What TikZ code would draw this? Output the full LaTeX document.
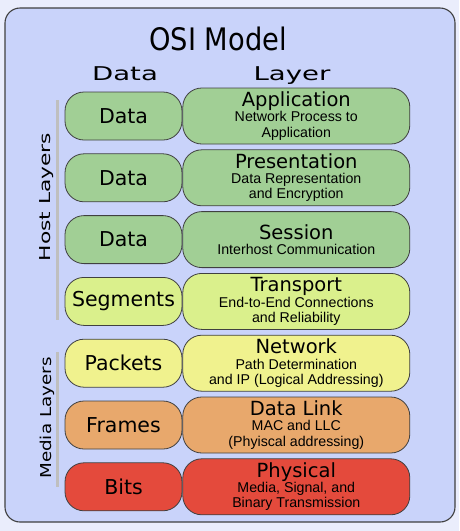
\documentclass[tikz,border=0pt]{standalone}
\usepackage{fontspec}
\setmainfont{DejaVu Sans}
\usetikzlibrary{positioning}

\newfontfamily\titlefam[FakeStretch=0.88]{DejaVu Sans}
\newfontfamily\widefam[FakeStretch=1.45]{DejaVu Sans}
\newfontfamily\mediafam[FakeStretch=1.22]{DejaVu Sans}
\newfontfamily\plainfam{DejaVu Sans}
\newfontfamily\arialfam{Liberation Sans}

\newcommand\osititle{\titlefam\fontsize{31}{36}\selectfont}
\newcommand\osihead{\widefam\fontsize{19}{22}\selectfont}
\newcommand\osiside{\widefam\fontsize{15}{18}\selectfont}
\newcommand\osimedia{\mediafam\fontsize{15}{18}\selectfont}
\newcommand\osiunit{\plainfam\fontsize{20.5}{24}\selectfont}
\newcommand\osilayer{\plainfam\fontsize{19.5}{22}\selectfont}
\newcommand\osisub{\arialfam\fontsize{14.2}{15.2}\selectfont}

\definecolor{outerbg}{RGB}{234,237,252}
\definecolor{osibg}{RGB}{201,211,250}
\definecolor{hostgreen}{RGB}{161,207,149}
\definecolor{translime}{RGB}{218,240,140}
\definecolor{netyellow}{RGB}{240,242,142}
\definecolor{linkorange}{RGB}{232,168,108}
\definecolor{physred}{RGB}{228,74,60}

\tikzset{
  osiframe/.style={draw=black!75, line width=1.1pt, fill=osibg, rounded corners=15pt},
  unitbox/.style={draw=black!75, line width=0.8pt, rounded corners=19pt,
                  minimum width=117pt, minimum height=48pt, inner sep=0pt, font=\osiunit},
  layerbox/.style={draw=black!75, line width=0.8pt, rounded corners=19pt,
                   minimum width=227pt, minimum height=56pt, inner sep=0pt,
                   align=center, font=\osisub},
  sideline/.style={draw=black!25, line width=3pt},
}

\begin{document}
\begin{tikzpicture}[x=1pt,y=-1pt]
   \useasboundingbox[fill=outerbg] (0,0) rectangle (459,531);
   \draw[osiframe] (5,8) rectangle (455,522);

   % titles
   \node[anchor=base, inner sep=0pt, font=\osititle] (title) at (218,50) {OSI Model};
   \node[anchor=base, inner sep=0pt, font=\osihead]  (datahead)  at (125,80) {Data};
   \node[anchor=base, inner sep=0pt, font=\osihead]  (layerhead) at (292,80) {Layer};

   % data units
   \node[unitbox, fill=hostgreen]                  (d1) at (123.5,116) {Data};
   \node[unitbox, fill=hostgreen,  below=13pt of d1] (d2) {Data};
   \node[unitbox, fill=hostgreen,  below=13pt of d2] (d3) {Data};
   \node[unitbox, fill=translime,  below=13pt of d3] (d4) {Segments};
   \node[unitbox, fill=netyellow,  below=13pt of d4] (d5) {Packets};
   \node[unitbox, fill=linkorange, below=13pt of d5] (d6) {Frames};
   \node[unitbox, fill=physred,    below=13pt of d6] (d7) {Bits};

   % layers
   \node[layerbox, fill=hostgreen,  right=0pt of d1] (l7)
        {{\osilayer Application}\\Network Process to\\Application};
   \node[layerbox, fill=hostgreen,  right=0pt of d2] (l6)
        {{\osilayer Presentation}\\Data Representation\\and Encryption};
   \node[layerbox, fill=hostgreen,  right=0pt of d3] (l5)
        {{\osilayer Session}\\Interhost Communication};
   \node[layerbox, fill=translime,  right=0pt of d4] (l4)
        {{\osilayer Transport}\\End-to-End Connections\\and Reliability};
   \node[layerbox, fill=netyellow,  right=0pt of d5] (l3)
        {{\osilayer Network}\\Path Determination\\and IP (Logical Addressing)};
   \node[layerbox, fill=linkorange, right=0pt of d6] (l2)
        {{\osilayer Data Link}\\MAC and LLC\\(Phyiscal addressing)};
   \node[layerbox, fill=physred,    right=0pt of d7] (l1)
        {{\osilayer Physical}\\Media, Signal, and\\Binary Transmission};

   % host / media brackets
   \draw[sideline] (57,100) -- (57,320);
   \draw[sideline] (57,352) -- (57,487);
   \node[rotate=90, inner sep=0pt, font=\osiside]  (hostlbl)  at (47,197) {Host Layers};
   \node[rotate=90, inner sep=0pt, font=\osimedia] (medialbl) at (47,418) {Media Layers};
\end{tikzpicture}
\end{document}
